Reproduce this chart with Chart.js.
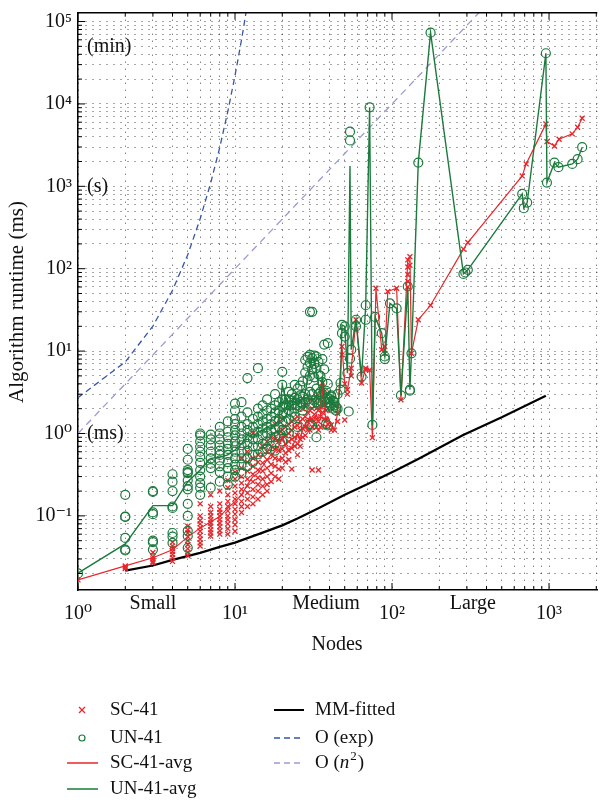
<!DOCTYPE html>
<html>
<head>
<meta charset="utf-8">
<script src="https://cdn.jsdelivr.net/npm/chart.js@4.4.1/dist/chart.umd.min.js"></script>
<style>
    body { margin: 0; background: #fff; }
    #wrap { width: 603px; height: 805px; }
</style>
</head>
<body>
<div id="wrap"><canvas id="runtimeChart" width="603" height="805"></canvas></div>
<script>
// runtimes (ms) per node count: [nodes, [runtimes...]]
const un41Stacks = [
    [1, [0.020]],
    [2, [0.18, 0.098, 0.097, 0.054, 0.039, 0.038]],
    [3, [0.2, 0.195, 0.11, 0.105, 0.05, 0.048, 0.039]],
    [4, [0.32, 0.26, 0.2, 0.13, 0.125, 0.062, 0.056, 0.047]],
    [5, [0.65, 0.48, 0.36, 0.34, 0.33, 0.27, 0.23, 0.21, 0.14, 0.1, 0.066, 0.057, 0.041]],
    [6, [1.0, 0.95, 0.8, 0.69, 0.6, 0.52, 0.44, 0.36, 0.3, 0.25, 0.22, 0.18]],
    [7, [0.97, 0.85, 0.72, 0.6, 0.5, 0.43, 0.38, 0.22]],
    [8, [1.2, 1.0, 0.85, 0.72, 0.62, 0.55, 0.47, 0.4, 0.34, 0.26]],
    [9, [1.4, 1.05, 0.9, 0.75, 0.65, 0.55, 0.45, 0.38, 0.3, 0.24]],
    [10, [2.3, 1.9, 1.5, 1.3, 1.1, 0.95, 0.8, 0.7, 0.6, 0.5, 0.42, 0.36, 0.3]],
    [11, [2.4, 1.6, 1.2, 1.0, 0.85, 0.72, 0.6, 0.5, 0.42, 0.33]],
    [12, [4.7, 1.8, 1.3, 1.1, 0.9, 0.75, 0.62, 0.5, 0.4]],
    [13, [1.5, 1.2, 1.0, 0.85, 0.7, 0.55, 0.45]],
    [14, [6.2, 2.0, 1.6, 1.3, 1.05, 0.85, 0.7, 0.56]],
    [15, [2.2, 1.7, 1.4, 1.15, 0.95, 0.75, 0.6]],
    [16, [2.6, 1.9, 1.5, 1.2, 1.0, 0.8, 0.65]],
    [17, [2.0, 1.6, 1.3, 1.1, 0.9, 0.7]],
    [18, [3.0, 2.2, 1.8, 1.4, 1.15, 0.9, 0.62]],
    [19, [2.4, 1.9, 1.5, 1.2, 0.95]],
    [20, [5.6, 3.9, 2.6, 2.1, 1.7, 1.4, 1.1, 0.8]],
    [21, [2.6, 2.2, 1.8, 1.4, 1.1]],
    [22, [3.2, 2.6, 2.2, 1.9, 1.5, 1.0]],
    [23, [3.0, 2.5, 2.2, 1.8]],
    [24, [3.9, 2.7, 2.3, 2.0, 1.6]],
    [25, [3.5, 2.6, 2.2, 1.2]],
    [26, [3.8, 2.9, 2.4, 2.1]],
    [27, [4.3, 2.8, 2.3, 1.9]],
    [28, [7.8, 5.5, 3.0, 2.4]],
    [29, [8.5, 6.5, 4.5, 2.6]],
    [30, [30, 9.0, 7.2, 5.0, 3.2, 2.3, 1.3]],
    [31, [30, 8.2, 6.0, 3.0, 2.3, 1.25]],
    [32, [8.8, 7.0, 4.8, 2.5]],
    [33, [8.6, 6.2, 3.5, 2.4, 0.9]],
    [34, [7.4, 5.2, 3.0, 2.3]],
    [35, [5.0, 3.2, 2.5]],
    [36, [8.0, 4.2, 3.0, 2.4]],
    [37, [12, 6.0, 3.1, 2.5]],
    [38, [3.3, 2.6, 1.3]],
    [39, [12.5, 4.0, 2.7, 2.4, 1.25]],
    [40, [2.6, 2.3, 2.1]],
    [41, [2.9, 2.8, 2.2]],
    [42, [2.5, 2.0]],
    [43, [2.4, 2.2]],
    [44, [2.1, 1.9]],
    [45, [3.0, 2.0]],
    [47, [4.1, 3.4]],
    [48, [20.8, 16.5]],
    [50, [19.9, 15]],
    [52, [5.4]],
    [53, [1.85]],
    [54, [4600, 3600, 8.1]],
    [55, [10.4]],
    [59, [24, 20]],
    [64, [4.9]],
    [68, [36, 24]],
    [72, [9100]],
    [75, [1.27]],
    [78, [26]],
    [86, [16.5]],
    [90, [8.6, 8.0]],
    [97, [38]],
    [107, [33]],
    [114, [2.9]],
    [126, [61]],
    [130, [3.4, 3.3]],
    [133, [9.4]],
    [147, [1940]],
    [176, [73300]],
    [285, [86.5]],
    [293, [90]],
    [304, [97]],
    [675, [809]],
    [691, [542]],
    [726, [634]],
    [955, [41200]],
    [970, [1109]],
    [1083, [1940]],
    [1148, [1706]],
    [1406, [1870]],
    [1521, [2135]],
    [1626, [2985]]
];

const sc41Stacks = [
    [1, [0.0167]],
    [2, [0.0247, 0.024, 0.023]],
    [3, [0.036, 0.032, 0.03, 0.028, 0.027]],
    [4, [0.048, 0.043, 0.04, 0.037, 0.034, 0.031, 0.028]],
    [5, [0.075, 0.068, 0.062, 0.056, 0.05, 0.045, 0.04, 0.036, 0.033]],
    [6, [0.14, 0.1, 0.088, 0.08, 0.072, 0.065, 0.058, 0.052, 0.047, 0.043]],
    [7, [0.18, 0.13, 0.11, 0.1, 0.09, 0.082, 0.075, 0.068, 0.062, 0.057]],
    [8, [0.2, 0.14, 0.12, 0.11, 0.1, 0.09, 0.082, 0.074, 0.066, 0.06]],
    [9, [0.27, 0.22, 0.18, 0.15, 0.13, 0.115, 0.1, 0.09, 0.08, 0.07, 0.06]],
    [10, [0.34, 0.28, 0.23, 0.19, 0.16, 0.14, 0.12, 0.105, 0.09, 0.078, 0.065]],
    [11, [0.5, 0.38, 0.3, 0.25, 0.21, 0.18, 0.15, 0.13, 0.11]],
    [12, [0.6, 0.45, 0.35, 0.28, 0.23, 0.19, 0.16, 0.13]],
    [13, [1.0, 0.5, 0.4, 0.32, 0.26, 0.21, 0.17, 0.14]],
    [14, [0.55, 0.45, 0.36, 0.29, 0.24, 0.2, 0.16]],
    [15, [0.7, 0.55, 0.44, 0.35, 0.28, 0.23, 0.18]],
    [16, [0.8, 0.6, 0.48, 0.38, 0.3, 0.24, 0.2]],
    [17, [0.9, 0.7, 0.55, 0.42, 0.33, 0.26]],
    [18, [1.3, 0.85, 0.65, 0.5, 0.4, 0.3]],
    [19, [1.0, 0.8, 0.62, 0.48, 0.37, 0.28]],
    [20, [1.5, 1.1, 0.85, 0.65, 0.5, 0.38]],
    [21, [1.2, 0.95, 0.75, 0.58, 0.45]],
    [22, [1.3, 1.0, 0.8, 0.62, 0.48]],
    [23, [1.4, 1.1, 0.85, 0.66, 0.37]],
    [24, [1.5, 1.2, 0.9, 0.7]],
    [25, [1.6, 1.25, 0.95, 0.75, 0.55]],
    [26, [1.4, 1.1, 0.85, 0.7]],
    [27, [2.0, 1.5, 1.15, 0.9]],
    [28, [2.2, 1.6, 1.2, 0.95]],
    [29, [1.8, 1.4, 1.1]],
    [30, [2.6, 1.9, 1.45, 1.1]],
    [31, [2.0, 1.5, 1.2, 0.36]],
    [32, [2.4, 1.7, 1.3]],
    [33, [2.8, 2.0, 1.5, 1.2]],
    [34, [1.9, 1.4, 1.1, 0.36]],
    [35, [2.1, 1.6, 1.2]],
    [36, [4.1, 2.5, 1.8]],
    [37, [3.2, 2.2, 1.5]],
    [38, [1.9, 1.46, 1.2]],
    [39, [2.0, 1.3]],
    [41, [1.27, 1.1]],
    [43, [1.1]],
    [45, [1.76, 1.4]],
    [48, [11.4, 9.0]],
    [50, [4.0, 1.46]],
    [52, [3.4, 3.0]],
    [55, [6.2, 5.0]],
    [59, [24, 18]],
    [64, [4.1]],
    [68, [6.2, 5.9]],
    [72, [5.9]],
    [75, [0.89]],
    [79, [58]],
    [86, [10.4]],
    [90, [9.4, 11.4]],
    [94, [52.8]],
    [107, [58]],
    [114, [2.56]],
    [126, [128, 105, 85, 70, 60]],
    [130, [140, 110]],
    [133, [9.4]],
    [147, [24]],
    [176, [36]],
    [285, [173]],
    [304, [208]],
    [675, [1337]],
    [715, [1870]],
    [955, [5720]],
    [970, [3485]],
    [1083, [3090]],
    [1159, [3730]],
    [1406, [4330]],
    [1521, [5210]],
    [1626, [6700]]
];

// averaged runs
const sc41AvgNodes = [1, 2, 3, 4, 5, 6, 7, 8, 9, 10, 11, 12, 13, 14, 15, 16, 17, 18, 19, 20,
    21, 22, 23, 24, 25, 26, 27, 28, 29, 30, 31, 32, 33, 34, 35, 36, 37, 38, 39,
    41, 43, 45, 48, 50, 52, 55, 59, 64, 68, 72, 75, 79, 86, 90, 94, 107, 114, 126, 130, 133,
    147, 176, 285, 304, 675, 715, 955, 970, 1083, 1159, 1406, 1521, 1626];
const sc41AvgMs = [0.0167, 0.0247, 0.031, 0.0387, 0.0556, 0.071, 0.085, 0.098, 0.124, 0.149,
    0.18, 0.24, 0.3, 0.33, 0.4, 0.48, 0.5, 0.62, 0.7, 0.92,
    0.7, 0.65, 0.69, 0.8, 1.0, 0.85, 1.15, 1.3, 1.2, 1.6, 1.35, 1.5, 1.7, 1.4, 1.5, 4.1, 2.0, 1.46, 1.6,
    1.27, 1.1, 1.76, 11.4, 4.0, 3.4, 6.2, 24, 4.1, 6.2, 5.9, 0.89, 58, 10.4, 9.4, 52.8, 58, 2.56, 128, 140, 9.4,
    24, 36, 173, 208, 1337, 1870, 5720, 3485, 3090, 3730, 4330, 5210, 6700];

const un41AvgNodes = [1, 2, 3, 4, 5, 6, 7, 8, 9, 10, 11, 12, 13, 14, 15, 16, 17, 18, 19, 20,
    21, 22, 23, 24, 25, 26, 27, 28, 29, 30, 31, 32, 33, 34, 35, 36, 37, 38, 39,
    41, 43, 45, 47, 48, 50, 52, 54, 55, 59, 64, 68, 72, 75, 78, 86, 90, 97, 107, 114, 126, 130, 133,
    147, 176, 285, 304, 675, 691, 726, 955, 970, 1083, 1148, 1406, 1521, 1626];
const un41AvgMs = [0.0202, 0.0457, 0.133, 0.133, 0.26, 0.36, 0.50, 0.515, 0.55, 0.63,
    0.75, 0.95, 0.9, 1.05, 1.1, 1.2, 1.15, 1.3, 1.4, 3.9,
    2.6, 2.1, 2.2, 2.7, 2.3, 2.5, 2.6, 3.2, 4.5, 6.5, 7.8, 8.6, 5.5, 4.0, 3.0, 5.0, 2.6, 2.4, 2.3,
    2.8, 2.2, 2.0, 4.1, 20.8, 19.9, 5.4, 1770, 10.4, 24, 4.9, 36, 9100, 1.27, 26, 16.5, 8.6, 38, 33, 2.9, 61, 3.4, 9.4,
    1940, 73300, 86.5, 97, 809, 542, 634, 41200, 1109, 1940, 1706, 1870, 2135, 2985];

// reference curves
const mmNodes = [2, 3, 4, 6, 8, 10, 15, 20, 25, 35, 50, 70, 107, 150, 282, 500, 955];
const mmMs = [0.0217, 0.025, 0.0292, 0.0356, 0.042, 0.0474, 0.0626, 0.0767, 0.093, 0.127, 0.18, 0.244,
    0.361, 0.5, 0.95, 1.57, 2.88];
const expNodes = [1, 2, 3, 4, 5, 6, 7, 8, 9, 10, 11, 12];
const expMs = [2.72, 7.39, 20.1, 54.6, 148, 403, 1097, 2981, 8103, 22026, 59874, 162755];
const sqNodes = [1, 2, 3, 5, 10, 20, 50, 100, 200, 400];
const sqMs = [1, 4, 9, 25, 100, 400, 2500, 10000, 40000, 160000];

// axis ticks and labels
const xTickValues = [1, 2, 3, 4, 5, 6, 7, 8, 9, 10, 20, 30, 40, 50, 60, 70, 80, 90,
    100, 200, 300, 400, 500, 600, 700, 800, 900, 1000, 2000];
const yTickValues = [0.02, 0.03, 0.04, 0.05, 0.06, 0.07, 0.08, 0.09,
    0.1, 0.2, 0.3, 0.4, 0.5, 0.6, 0.7, 0.8, 0.9,
    1, 2, 3, 4, 5, 6, 7, 8, 9, 10, 20, 30, 40, 50, 60, 70, 80, 90,
    100, 200, 300, 400, 500, 600, 700, 800, 900, 1000, 2000, 3000, 4000, 5000, 6000, 7000, 8000, 9000,
    10000, 20000, 30000, 40000, 50000, 60000, 70000, 80000, 90000, 100000];
const sizeLabels = ['Small', 'Medium', 'Large'];
const sizeLabelNodes = [3, 38, 327];
const unitLabels = ['(min)', '(s)', '(ms)'];
const unitLabelMs = [50000, 1000, 1];

const RED = '#e8262b';
const GREEN = '#1b7a3c';
const FONT = '"Liberation Serif", "DejaVu Serif", serif';

function toPoints(stacks) {
    const pts = [];
    stacks.forEach(([n, vals]) => vals.forEach(v => pts.push({ x: n, y: v })));
    return pts;
}
function zipPoints(xs, ys) {
    return xs.map((x, i) => ({ x: x, y: ys[i] }));
}

const SUP = { '-': '\u207B', '0': '\u2070', '1': '\u00B9', '2': '\u00B2', '3': '\u00B3', '4': '\u2074', '5': '\u2075' };
function isDecade(v) {
    const e = Math.round(Math.log10(v));
    return Math.abs(v - Math.pow(10, e)) < 1e-9 * v;
}
function powLabel(v) {
    if (!isDecade(v)) return '';
    const e = String(Math.round(Math.log10(v)));
    return '10' + e.split('').map(c => SUP[c]).join('');
}

// axis frame, inward ticks, annotations and the two-column legend
const figureText = {
    id: 'figureText',
    afterDraw(chart) {
        const { ctx, chartArea: a, scales: { x, y } } = chart;
        const seg = (x1, y1, x2, y2) => { ctx.beginPath(); ctx.moveTo(x1, y1); ctx.lineTo(x2, y2); ctx.stroke(); };
        ctx.save();
        ctx.strokeStyle = '#000';
        ctx.lineWidth = 1.5;
        seg(a.left, a.top, a.right, a.top);
        ctx.lineWidth = 1;
        xTickValues.forEach(v => {
            const px = x.getPixelForValue(v);
            const len = isDecade(v) ? 7 : 4;
            seg(px, a.bottom, px, a.bottom - len);
            seg(px, a.top, px, a.top + len);
        });
        yTickValues.forEach(v => {
            const py = y.getPixelForValue(v);
            const len = isDecade(v) ? 7 : 4;
            seg(a.left, py, a.left + len, py);
        });

        ctx.fillStyle = '#111';
        ctx.font = '20px ' + FONT;
        ctx.textBaseline = 'middle';
        ctx.textAlign = 'left';
        unitLabels.forEach((t, i) => ctx.fillText(t, a.left + 9, y.getPixelForValue(unitLabelMs[i])));

        ctx.textAlign = 'center';
        ctx.textBaseline = 'alphabetic';
        sizeLabels.forEach((t, i) => ctx.fillText(t, x.getPixelForValue(sizeLabelNodes[i]), a.bottom + 19));
        ctx.fillText('Nodes', 337, 650);

        ctx.save();
        ctx.translate(17, 302);
        ctx.rotate(-Math.PI / 2);
        ctx.font = '21px ' + FONT;
        ctx.textBaseline = 'middle';
        ctx.fillText('Algorithm runtime (ms)', 0, 0);
        ctx.restore();

        // legend
        ctx.font = '19px ' + FONT;
        ctx.textAlign = 'left';
        ctx.textBaseline = 'middle';
        const rows = [710, 738, 763, 789];
        const lx = 110, rx = 315;
        ctx.fillText('SC-41', lx, rows[0]);
        ctx.fillText('UN-41', lx, rows[1]);
        ctx.fillText('SC-41-avg', lx, rows[2]);
        ctx.fillText('UN-41-avg', lx, rows[3]);
        ctx.fillText('MM-fitted', rx, rows[0]);
        ctx.fillText('O (exp)', rx, rows[1]);
        let tx = rx;
        ctx.fillText('O (', tx, rows[2]);
        tx += ctx.measureText('O (').width;
        ctx.font = 'italic 19px ' + FONT;
        ctx.fillText('n', tx, rows[2]);
        tx += ctx.measureText('n').width + 1;
        ctx.font = '13px ' + FONT;
        ctx.fillText('2', tx, rows[2] - 6);
        tx += ctx.measureText('2').width + 1;
        ctx.font = '19px ' + FONT;
        ctx.fillText(')', tx, rows[2]);

        ctx.lineWidth = 1.2;
        ctx.strokeStyle = RED;
        seg(79, rows[0] - 3, 85, rows[0] + 3);
        seg(79, rows[0] + 3, 85, rows[0] - 3);
        ctx.strokeStyle = GREEN;
        ctx.beginPath(); ctx.arc(82, rows[1], 3, 0, Math.PI * 2); ctx.stroke();
        ctx.lineWidth = 1.5;
        ctx.strokeStyle = RED;
        seg(67, rows[2], 98, rows[2]);
        ctx.strokeStyle = '#4f9e69';
        ctx.lineWidth = 2;
        seg(67, rows[3], 98, rows[3]);
        ctx.strokeStyle = '#000';
        ctx.lineWidth = 2;
        seg(274, rows[0], 304, rows[0]);
        ctx.lineWidth = 1.3;
        ctx.setLineDash([6, 4]);
        ctx.strokeStyle = '#3556a6';
        seg(274, rows[1], 304, rows[1]);
        ctx.strokeStyle = '#9b9bd3';
        seg(274, rows[2], 304, rows[2]);
        ctx.restore();
    }
};

Chart.defaults.font.family = FONT;

new Chart(document.getElementById('runtimeChart'), {
    type: 'scatter',
    data: {
        datasets: [
            {
                label: 'UN-41-avg',
                data: zipPoints(un41AvgNodes, un41AvgMs),
                showLine: true,
                borderColor: GREEN,
                borderWidth: 1.4,
                pointRadius: 0,
                tension: 0
            },
            {
                label: 'SC-41-avg',
                data: zipPoints(sc41AvgNodes, sc41AvgMs),
                showLine: true,
                borderColor: RED,
                borderWidth: 1.2,
                pointRadius: 0,
                tension: 0
            },
            {
                label: 'UN-41',
                data: toPoints(un41Stacks),
                pointStyle: 'circle',
                pointRadius: 4.5,
                borderColor: GREEN,
                backgroundColor: 'rgba(0,0,0,0)',
                borderWidth: 1.2
            },
            {
                label: 'SC-41',
                data: toPoints(sc41Stacks),
                pointStyle: 'crossRot',
                pointRadius: 3.5,
                borderColor: RED,
                borderWidth: 1.3
            },
            {
                label: 'MM-fitted',
                data: zipPoints(mmNodes, mmMs),
                showLine: true,
                borderColor: '#000',
                borderWidth: 2.2,
                pointRadius: 0,
                tension: 0
            },
            {
                label: 'O (exp)',
                data: zipPoints(expNodes, expMs),
                showLine: true,
                borderColor: '#3556a6',
                borderWidth: 1.3,
                borderDash: [6, 4],
                pointRadius: 0,
                tension: 0
            },
            {
                label: 'O (n2)',
                data: zipPoints(sqNodes, sqMs),
                showLine: true,
                borderColor: '#9b9bd3',
                borderWidth: 1.3,
                borderDash: [7, 5],
                pointRadius: 0,
                tension: 0
            }
        ]
    },
    options: {
        responsive: false,
        devicePixelRatio: 1,
        animation: false,
        events: [],
        layout: { padding: { top: 12.7, left: 0, right: 0, bottom: 0 } },
        plugins: {
            legend: { display: false },
            tooltip: { enabled: false }
        },
        scales: {
            x: {
                type: 'logarithmic',
                min: 1,
                max: 2030,
                afterBuildTicks: axis => { axis.ticks = xTickValues.map(v => ({ value: v })); },
                afterFit: scale => { scale.height = 215; scale.paddingLeft = 0; scale.paddingRight = 0; },
                ticks: {
                    autoSkip: false,
                    maxRotation: 0,
                    padding: 12,
                    color: '#111',
                    font: { size: 20 },
                    callback: v => powLabel(v)
                },
                grid: { color: 'rgba(0,0,0,0.7)', lineWidth: 1, drawTicks: false },
                border: { display: true, color: '#000', width: 1.5, dash: [1, 6] }
            },
            y: {
                type: 'logarithmic',
                min: 0.0126,
                max: 128000,
                afterBuildTicks: axis => { axis.ticks = yTickValues.map(v => ({ value: v })); },
                afterFit: scale => { scale.width = 78; scale.paddingTop = 0; scale.paddingBottom = 0; },
                ticks: {
                    autoSkip: false,
                    padding: 6,
                    color: '#111',
                    font: { size: 20 },
                    callback: v => powLabel(v)
                },
                grid: { color: 'rgba(0,0,0,0.7)', lineWidth: 1, drawTicks: false },
                border: { display: true, color: '#000', width: 1.5, dash: [1, 6] }
            }
        }
    },
    plugins: [figureText]
});
</script>
</body>
</html>
